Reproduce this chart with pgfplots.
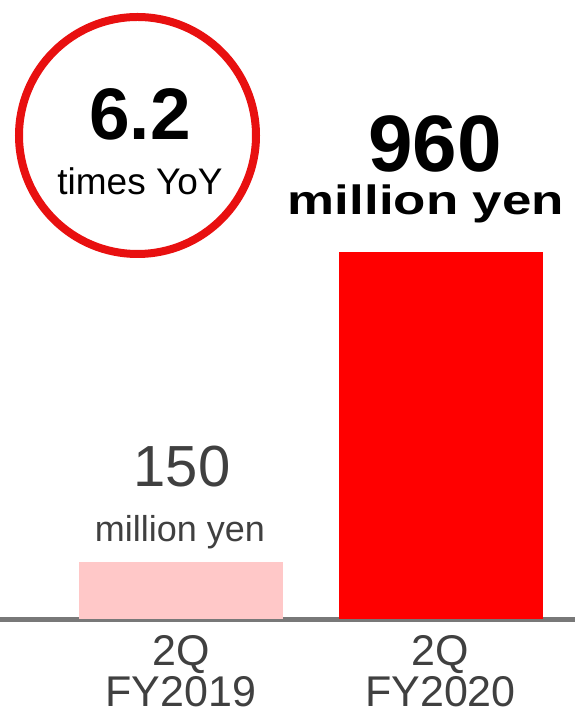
\documentclass[border=0pt]{standalone}
\usepackage{pgfplots}
\pgfplotsset{compat=1.18}
\usepackage{fontspec}
\setmainfont{Liberation Sans}
\definecolor{barpink}{RGB}{255,200,200}
\definecolor{barred}{RGB}{255,0,0}
\definecolor{circred}{RGB}{232,16,16}
\definecolor{txtgray}{RGB}{64,64,64}
\definecolor{axgray}{RGB}{120,120,120}
\begin{document}
\begin{tikzpicture}
\begin{axis}[
  at={(0pt,96pt)}, anchor=south west,
  scale only axis, width=575pt, height=619pt,
  xmin=-0.6975, xmax=1.5183, ymin=0, ymax=1617,
  ybar, bar width=204pt, bar shift=0pt,
  axis x line*=bottom, axis y line=none,
  axis line style={axgray, line width=5pt, -},
  xtick={0,1}, xticklabels={{2Q\\FY2019},{2Q\\FY2020}},
  major tick length=0pt,
  xticklabel style={anchor=base, align=center, text=txtgray, inner sep=0pt,
    text depth=0pt, font=\fontsize{43}{41}\selectfont, yshift=-87pt},
  clip=false,
]
\addplot[fill=barpink, draw=none] coordinates {(0,150)};
\addplot[fill=barred, draw=none] coordinates {(1,960)};
\end{axis}
% annotations (pixel coordinates from top-left)
\begin{scope}[every node/.style={inner sep=0pt, anchor=base}]
\draw[circred, line width=8pt] (137.5pt,{715pt-135.5pt}) circle (118.5pt);
\node at (140pt,{715pt-140pt}) {\fontsize{73}{73}\selectfont\bfseries 6.2};
\node at (140pt,{715pt-195pt}) {\fontsize{37}{37}\selectfont times YoY};
\node at (435pt,{715pt-172pt}) {\fontsize{80}{80}\selectfont\bfseries 960};
\node[xscale=1.29] at (426pt,{715pt-215pt}) {\fontsize{41}{41}\selectfont\bfseries million yen};
\node[text=txtgray] at (182pt,{715pt-487pt}) {\fontsize{58}{58}\selectfont 150};
\node[text=txtgray] at (180pt,{715pt-542pt}) {\fontsize{36}{36}\selectfont million yen};
\end{scope}
\pgfresetboundingbox
\path[use as bounding box] (0pt,0pt) rectangle (575pt,715pt);
\end{tikzpicture}
\end{document}
